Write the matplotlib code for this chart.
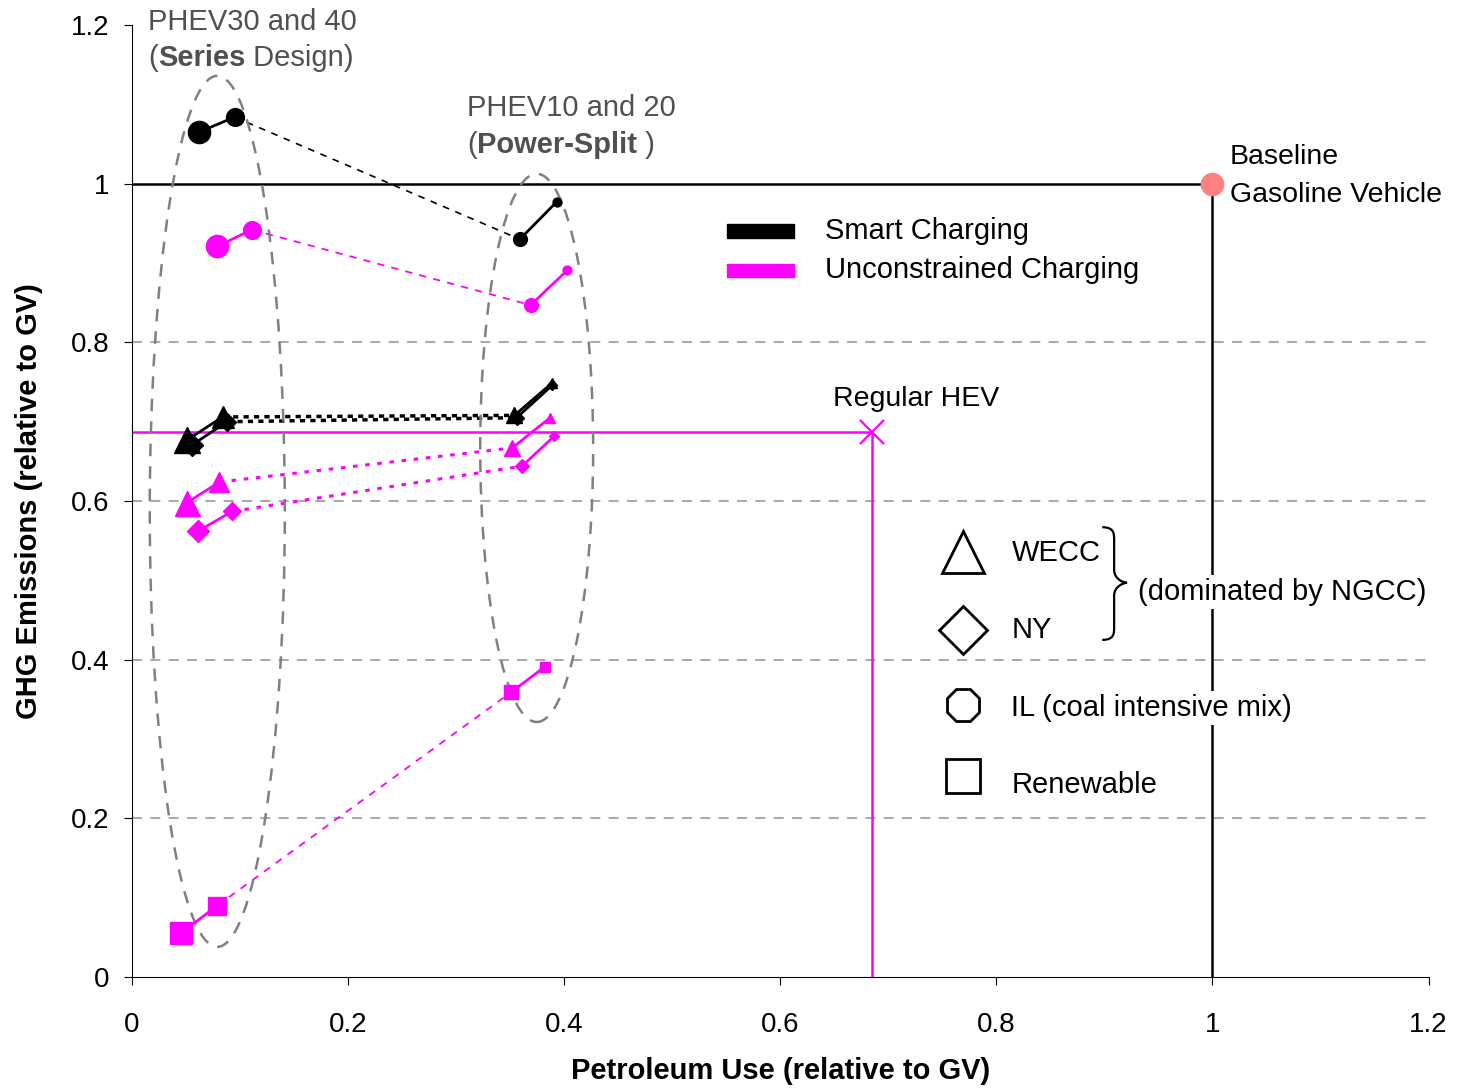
import matplotlib
matplotlib.use('Agg')
import matplotlib.pyplot as plt
from matplotlib.patches import Ellipse, Rectangle, PathPatch
from matplotlib.path import Path

plt.rcParams['font.family'] = ['Liberation Sans', 'DejaVu Sans']

# each path runs: series design (2 ranges), then power-split (2 ranges)
smart_il_x = [0.062, 0.095, 0.359, 0.393]
smart_il_y = [1.065, 1.084, 0.930, 0.977]
smart_wecc_x = [0.051, 0.084, 0.354, 0.389]
smart_wecc_y = [0.677, 0.706, 0.708, 0.749]
smart_ny_x = [0.056, 0.088, 0.356, 0.389]
smart_ny_y = [0.671, 0.700, 0.705, 0.746]

unc_il_x = [0.079, 0.111, 0.369, 0.403]
unc_il_y = [0.921, 0.942, 0.847, 0.891]
unc_wecc_x = [0.051, 0.081, 0.352, 0.387]
unc_wecc_y = [0.598, 0.624, 0.667, 0.705]
unc_ny_x = [0.061, 0.093, 0.361, 0.391]
unc_ny_y = [0.562, 0.587, 0.644, 0.682]
unc_ren_x = [0.045, 0.079, 0.351, 0.382]
unc_ren_y = [0.055, 0.090, 0.359, 0.391]

hev_x, hev_y = 0.685, 0.687
gv_x, gv_y = 1.0, 1.0

ticks = [0, 0.2, 0.4, 0.6, 0.8, 1, 1.2]
tick_labels = ['0', '0.2', '0.4', '0.6', '0.8', '1', '1.2']
grid_levels = [0.2, 0.4, 0.6, 0.8]

MAG = '#ff00ff'
size_scale = [1.0, 0.8, 0.62, 0.4]

fig = plt.figure(figsize=(14.61, 10.89), dpi=100)
ax = fig.add_axes([0.0903, 0.1028, 0.8875, 0.8742])
ax.set_xlim(0, 1.2)
ax.set_ylim(0, 1.2)

for s in ['top', 'right']:
    ax.spines[s].set_visible(False)
ax.set_xticks(ticks)
ax.set_xticklabels(tick_labels)
ax.set_yticks(ticks)
ax.set_yticklabels(tick_labels)
ax.tick_params(axis='x', direction='out', length=6, labelsize=20, pad=19)
ax.tick_params(axis='y', direction='out', length=6, labelsize=20, pad=10)
ax.set_xlabel('Petroleum Use (relative to GV)', fontsize=21, fontweight='bold', labelpad=14)
ax.set_ylabel('GHG Emissions (relative to GV)', fontsize=21, fontweight='bold', labelpad=20)

ax.hlines(grid_levels, 0, 1.2, colors='#999999', linestyles=(0, (6, 5)), lw=1.2, zorder=0)

# baseline GV and regular HEV reference lines
ax.plot([0, gv_x], [gv_y, gv_y], color='black', lw=1.8, zorder=2)
ax.plot([gv_x, gv_x], [0, gv_y], color='black', lw=1.8, zorder=2)
ax.plot([0, hev_x], [hev_y, hev_y], color=MAG, lw=1.8, zorder=2)
ax.plot([hev_x, hev_x], [0, hev_y], color=MAG, lw=1.8, zorder=2)
ax.plot(hev_x, hev_y, marker='x', ms=17, mew=1.6, color=MAG, zorder=5)
ax.plot(gv_x, gv_y, marker='o', ms=16, color='#ff8080', mec='#ff8080', zorder=6)


def draw_path(xs, ys, color, marker, base, dash, dash_lw):
    ax.plot(xs[:2], ys[:2], color=color, lw=2, zorder=4)
    ax.plot(xs[2:], ys[2:], color=color, lw=2, zorder=4)
    ax.plot(xs[1:3], ys[1:3], color=color, lw=dash_lw, ls=dash, zorder=3)
    for x, y, k in zip(xs, ys, size_scale):
        ax.plot(x, y, marker=marker, ms=base * k, color=color, mec=color, zorder=5)


draw_path(unc_ren_x, unc_ren_y, MAG, 's', 16.5, (0, (4, 4)), 1.3)
draw_path(unc_ny_x, unc_ny_y, MAG, 'D', 11.5, (0, (1.5, 2.5)), 2.2)
draw_path(unc_wecc_x, unc_wecc_y, MAG, '^', 18, (0, (1.5, 2.5)), 2.2)
draw_path(unc_il_x, unc_il_y, MAG, 'o', 16, (0, (4, 4)), 1.3)
draw_path(smart_ny_x, smart_ny_y, 'black', 'D', 11.5, (0, (1.5, 1.5)), 2.5)
draw_path(smart_wecc_x, smart_wecc_y, 'black', '^', 19, (0, (1.5, 1.5)), 2.5)
draw_path(smart_il_x, smart_il_y, 'black', 'o', 16, (0, (4, 4)), 1.2)

# design groupings
ax.add_patch(Ellipse((0.079, 0.587), 0.125, 1.098, fill=False, ec='#808080',
                     lw=1.8, ls=(0, (5, 4)), zorder=3))
ax.add_patch(Ellipse((0.3746, 0.667), 0.1045, 0.691, fill=False, ec='#808080',
                     lw=1.8, ls=(0, (5, 4)), zorder=3))

grey = '#505050'


def mixed_text(x, y, parts):
    t = ax.text(x, y, parts[0][0], fontsize=21, color=grey, fontweight=parts[0][1],
                va='center', ha='left', clip_on=False)
    for txt, w in parts[1:]:
        t = ax.annotate(txt, xy=(1, 0), xycoords=t, va='bottom', ha='left',
                        fontsize=21, color=grey, fontweight=w, annotation_clip=False)


mixed_text(0.015, 1.204, [('PHEV30 and 40', 'normal')])
mixed_text(0.015, 1.159, [('(', 'normal'), ('Series', 'bold'), (' Design)', 'normal')])
mixed_text(0.310, 1.095, [('PHEV10 and 20', 'normal')])
mixed_text(0.310, 1.049, [('(', 'normal'), ('Power-Split', 'bold'), (' )', 'normal')])

ax.text(1.016, 1.034, 'Baseline', fontsize=20.5, va='center', ha='left', clip_on=False)
ax.text(1.016, 0.986, 'Gasoline Vehicle', fontsize=20.5, va='center', ha='left', clip_on=False)
ax.text(0.649, 0.7286, 'Regular HEV', fontsize=20.5, va='center', ha='left')

# charging legend
ax.add_patch(Rectangle((0.551, 0.932), 0.062, 0.017, color='black', zorder=5))
ax.add_patch(Rectangle((0.551, 0.882), 0.062, 0.017, color=MAG, zorder=5))
ax.text(0.641, 0.940, 'Smart Charging', fontsize=21, va='center', ha='left')
ax.text(0.641, 0.891, 'Unconstrained Charging', fontsize=21, va='center', ha='left')

# grid mix legend
box = dict(facecolor='white', edgecolor='none', pad=2)
mix_marks = ['^', 'D', '8', 's']
mix_sizes = [30, 24, 25, 24]
mix_names = ['WECC', 'NY', 'IL (coal intensive mix)', 'Renewable']
mark_y = [0.536, 0.437, 0.343, 0.253]
name_y = [0.534, 0.437, 0.339, 0.242]
for m, s, n, my, ny in zip(mix_marks, mix_sizes, mix_names, mark_y, name_y):
    ax.plot(0.769, my, marker=m, ms=s, mfc='white', mec='black', mew=2, zorder=6)
    ax.text(0.814, ny, n, fontsize=21, va='center', ha='left', bbox=box, zorder=6)

# curly brace grouping WECC and NY
bx, btip, btop, bbot, bmid = 0.898, 0.921, 0.567, 0.425, 0.497
bw = 0.011
dy = 0.016
verts = [(bx, btop),
         (bx + bw, btop), (bx + bw, btop - dy / 2), (bx + bw, btop - dy),
         (bx + bw, bmid + dy),
         (bx + bw, bmid + dy / 3), (btip - 0.004, bmid), (btip, bmid),
         (btip - 0.004, bmid), (bx + bw, bmid - dy / 3), (bx + bw, bmid - dy),
         (bx + bw, bbot + dy),
         (bx + bw, bbot + dy / 2), (bx + bw, bbot), (bx, bbot)]
codes = [Path.MOVETO,
         Path.CURVE4, Path.CURVE4, Path.CURVE4,
         Path.LINETO,
         Path.CURVE4, Path.CURVE4, Path.CURVE4,
         Path.CURVE4, Path.CURVE4, Path.CURVE4,
         Path.LINETO,
         Path.CURVE4, Path.CURVE4, Path.CURVE4]
ax.add_patch(PathPatch(Path(verts, codes), fill=False, ec='black', lw=1.6, zorder=6))
ax.text(0.9315, 0.485, '(dominated by NGCC)', fontsize=21, va='center', ha='left',
        bbox=box, zorder=6)

fig.savefig('out.png', dpi=100)
